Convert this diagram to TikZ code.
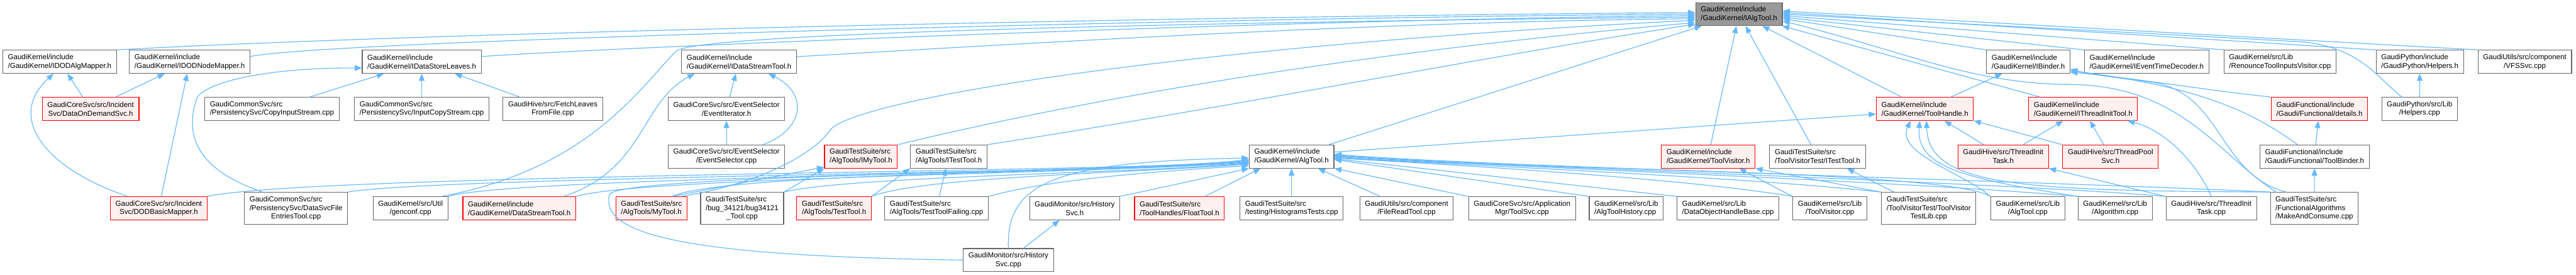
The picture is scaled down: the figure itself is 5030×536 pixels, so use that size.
\documentclass[tikz,border=0pt]{standalone}
\usepackage{fontspec}
\setmainfont{Liberation Sans}
\usetikzlibrary{arrows.meta}

\definecolor{depblue}{HTML}{63B8FF}
\definecolor{boxgrey}{HTML}{666666}
\definecolor{redfill}{HTML}{FFF0F0}
\definecolor{rootfill}{HTML}{999999}

\tikzset{
  filebox/.style={draw=boxgrey, fill=white, line width=0.7pt, font=\fontsize{7.1pt}{8.55pt}\selectfont,
    align=left, inner xsep=5pt, inner ysep=1pt, minimum height=22.5pt},
  cbox/.style={align=center},
  tall/.style={minimum height=31pt},
  redbox/.style={filebox, draw=red, fill=redfill},
  rootbox/.style={filebox, fill=rootfill},
  dep/.style={draw=depblue, line width=0.7pt, -{Triangle[length=7pt,width=5.5pt]}}
}

\begin{document}
\begin{tikzpicture}[x=0.5pt,y=-0.5pt]
\useasboundingbox (0,0) rectangle (5030,536);
\fill[white] (0,0) rectangle (5030,536);

% row 0
\node[rootbox] (ialgtool) at (3395.5,27.5) {GaudiKernel/include\\/GaudiKernel/IAlgTool.h};

% row 1
\node[filebox] (dodalg) at (116.5,120.5) {GaudiKernel/include\\/GaudiKernel/IDODAlgMapper.h};
\node[filebox] (dodnode) at (370.5,120.5) {GaudiKernel/include\\/GaudiKernel/IDODNodeMapper.h};
\node[filebox] (dsleaves) at (823.5,120.5) {GaudiKernel/include\\/GaudiKernel/IDataStoreLeaves.h};
\node[filebox] (idstreamtool) at (1443,120.5) {GaudiKernel/include\\/GaudiKernel/IDataStreamTool.h};
\node[filebox] (ibinder) at (3960.5,120.5) {GaudiKernel/include\\/GaudiKernel/IBinder.h};
\node[filebox] (ieventtime) at (4191.5,120.5) {GaudiKernel/include\\/GaudiKernel/IEventTimeDecoder.h};
\node[filebox] (renounce) at (4452,120.5) {GaudiKernel/src/Lib\\/RenounceToolInputsVisitor.cpp};
\node[filebox] (pyhelpersh) at (4725,120.5) {GaudiPython/include\\/GaudiPython/Helpers.h};
\node[filebox,cbox] (vfssvc) at (4930,120.5) {GaudiUtils/src/component\\/VFSSvc.cpp};

% row 2
\node[redbox,cbox] (dataondemand) at (177,212.5) {GaudiCoreSvc/src/Incident\\Svc/DataOnDemandSvc.h};
\node[filebox] (copyinput) at (531,212.5) {GaudiCommonSvc/src\\/PersistencySvc/CopyInputStream.cpp};
\node[filebox] (inputcopy) at (823.5,212.5) {GaudiCommonSvc/src\\/PersistencySvc/InputCopyStream.cpp};
\node[filebox,cbox] (fetchleaves) at (1079.5,212.5) {GaudiHive/src/FetchLeaves\\FromFile.cpp};
\node[filebox,cbox] (eventiter) at (1418.5,212.5) {GaudiCoreSvc/src/EventSelector\\/EventIterator.h};
\node[redbox] (toolhandle) at (3758.5,212.5) {GaudiKernel/include\\/GaudiKernel/ToolHandle.h};
\node[redbox] (ithreadinit) at (4067.5,212.5) {GaudiKernel/include\\/GaudiKernel/IThreadInitTool.h};
\node[redbox] (details) at (4529,212.5) {GaudiFunctional/include\\/Gaudi/Functional/details.h};
\node[filebox,cbox] (pyhelperscpp) at (4724.5,212.5) {GaudiPython/src/Lib\\/Helpers.cpp};

% row 3
\node[filebox,cbox] (eventsel) at (1418.5,305.5) {GaudiCoreSvc/src/EventSelector\\/EventSelector.cpp};
\node[redbox] (imytool) at (1681,305.5) {GaudiTestSuite/src\\/AlgTools/IMyTool.h};
\node[filebox] (itesttoola) at (1852.5,305.5) {GaudiTestSuite/src\\/AlgTools/ITestTool.h};
\node[filebox] (algtoolh) at (2522,305.5) {GaudiKernel/include\\/GaudiKernel/AlgTool.h};
\node[redbox] (toolvisitorh) at (3335.5,305.5) {GaudiKernel/include\\/GaudiKernel/ToolVisitor.h};
\node[filebox] (itesttoolv) at (3549,305.5) {GaudiTestSuite/src\\/ToolVisitorTest/ITestTool.h};
\node[redbox,cbox] (threadinittaskh) at (3911.5,305.5) {GaudiHive/src/ThreadInit\\Task.h};
\node[redbox,cbox] (threadpoolsvc) at (4121,305.5) {GaudiHive/src/ThreadPool\\Svc.h};
\node[filebox] (toolbinder) at (4519.5,305.5) {GaudiFunctional/include\\/Gaudi/Functional/ToolBinder.h};

% row 4
\node[redbox,cbox] (dodbasic) at (310,406.5) {GaudiCoreSvc/src/Incident\\Svc/DODBasicMapper.h};
\node[filebox,cbox,tall] (dsfileentries) at (578,406.5) {\rlap{GaudiCommonSvc/src}\phantom{/PersistencySvc/DataSvcFile}\\/PersistencySvc/DataSvcFile\\EntriesTool.cpp};
\node[filebox,cbox] (genconf) at (801.5,406.5) {GaudiKernel/src/Util\\/genconf.cpp};
\node[redbox] (datastreamtool) at (1014,406.5) {GaudiKernel/include\\/GaudiKernel/DataStreamTool.h};
\node[redbox] (mytool) at (1272,406.5) {GaudiTestSuite/src\\/AlgTools/MyTool.h};
\node[filebox,cbox,tall] (bug34121) at (1449,406.5) {\rlap{GaudiTestSuite/src}\phantom{/bug\_34121/bug34121}\\/bug\_34121/bug34121\\\_Tool.cpp};
\node[redbox] (testtool) at (1628.5,406.5) {GaudiTestSuite/src\\/AlgTools/TestTool.h};
\node[filebox] (testtoolfailing) at (1828.5,406.5) {GaudiTestSuite/src\\/AlgTools/TestToolFailing.cpp};
\node[filebox,cbox] (historysvch) at (2098.5,406.5) {GaudiMonitor/src/History\\Svc.h};
\node[redbox] (floattool) at (2303,406.5) {GaudiTestSuite/src\\/ToolHandles/FloatTool.h};
\node[filebox] (histtests) at (2522,406.5) {GaudiTestSuite/src\\/testing/HistogramsTests.cpp};
\node[filebox,cbox] (filereadtool) at (2746.5,406.5) {GaudiUtils/src/component\\/FileReadTool.cpp};
\node[filebox,cbox] (toolsvc) at (2972,406.5) {GaudiCoreSvc/src/Application\\Mgr/ToolSvc.cpp};
\node[filebox] (algtoolhistory) at (3175.5,406.5) {GaudiKernel/src/Lib\\/AlgToolHistory.cpp};
\node[filebox] (dohandlebase) at (3374,406.5) {GaudiKernel/src/Lib\\/DataObjectHandleBase.cpp};
\node[filebox,cbox] (toolvisitorcpp) at (3573,406.5) {GaudiKernel/src/Lib\\/ToolVisitor.cpp};
\node[filebox,cbox,tall] (tvtestlib) at (3766,406.5) {\rlap{GaudiTestSuite/src}\phantom{/ToolVisitorTest/ToolVisitor}\\/ToolVisitorTest/ToolVisitor\\TestLib.cpp};
\node[filebox,cbox] (algtoolcpp) at (3959.5,406.5) {GaudiKernel/src/Lib\\/AlgTool.cpp};
\node[filebox,cbox] (algorithmcpp) at (4130,406.5) {GaudiKernel/src/Lib\\/Algorithm.cpp};
\node[filebox,cbox] (threadinittaskcpp) at (4318,406.5) {GaudiHive/src/ThreadInit\\Task.cpp};
\node[filebox,tall] (makeandconsume) at (4519,406.5) {GaudiTestSuite/src\\/FunctionalAlgorithms\\/MakeAndConsume.cpp};

% row 5
\node[filebox,cbox] (historysvccpp) at (1969,507.5) {GaudiMonitor/src/History\\Svc.cpp};

% into IAlgTool.h
\draw[dep] (dodalg.north east) .. controls (900,60) and (2500,30) .. (ialgtool.178);
\draw[dep] (dodnode.5) .. controls (650,78) and (2400,34) .. (ialgtool.180);
\draw[dep] (dsleaves.5) .. controls (1150,95) and (2500,38) .. (ialgtool.182);
\draw[dep] (genconf.21) .. controls (1150,330) and (1250,170) .. (1320,100) .. controls (1360,60) and (2600,40) .. (ialgtool.184);
\draw[dep] (idstreamtool.5) .. controls (2000,85) and (2700,42) .. (ialgtool.186);
\draw[dep] (mytool.22) .. controls (1480,360) and (1590,300) .. (1620,255) .. controls (1660,195) and (2300,90) .. (ialgtool.188);
\draw[dep] (imytool.north east) .. controls (2300,150) and (2900,80) .. (ialgtool.191);
\draw[dep] (itesttoola.north east) .. controls (2400,210) and (2900,110) .. (ialgtool.193);
\draw[dep] (algtoolh) -- (ialgtool);
\draw[dep] (toolvisitorh) -- (ialgtool);
\draw[dep] (itesttoolv) -- (ialgtool);
\draw[dep] (toolhandle) -- (ialgtool);
\draw[dep] (ithreadinit) -- (ialgtool);
\draw[dep] (vfssvc.north west) -- (ialgtool.4);
\draw[dep] (pyhelpersh.north west) -- (ialgtool.2);
\draw[dep] (pyhelperscpp.146) .. controls (4640,150) and (4610,95) .. (4500,82) .. controls (4200,65) and (3700,40) .. (ialgtool.0);
\draw[dep] (renounce.north west) -- (ialgtool.-2);
\draw[dep] (ieventtime.north west) -- (ialgtool.-4);
\draw[dep] (ibinder.north west) -- (ialgtool.-6);
\draw[dep] (makeandconsume.157) .. controls (4330,300) and (4260,170) .. (4050,165) .. controls (3850,165) and (3720,100) .. (ialgtool.-9);

% IDOD mappers, IDataStoreLeaves.h, IDataStreamTool.h
\draw[dep] (dataondemand) -- (dodalg);
\draw[dep] (dataondemand) -- (dodnode);
\draw[dep] (dodbasic.159) .. controls (90,330) and (10,230) .. (dodalg.243);
\draw[dep] (dodbasic) -- (dodnode);
\draw[dep] (copyinput) -- (dsleaves);
\draw[dep] (inputcopy) -- (dsleaves);
\draw[dep] (fetchleaves) -- (dsleaves);
\draw[dep] (dsfileentries.154) .. controls (380,330) and (360,260) .. (385,190) .. controls (405,160) and (520,132) .. (dsleaves.186);
\draw[dep] (eventiter) -- (idstreamtool);
\draw[dep] (eventsel) -- (eventiter);
\draw[dep] (eventsel.18) .. controls (1575,250) and (1575,180) .. (idstreamtool.-22);
\draw[dep] (datastreamtool.15) .. controls (1260,330) and (1250,200) .. (idstreamtool.195);

% test tool interfaces
\draw[dep] (mytool.30) -- (imytool.196);
\draw[dep] (bug34121.north east) -- (imytool.south west);
\draw[dep] (testtool.north east) -- (itesttoola.south west);
\draw[dep] (testtoolfailing) -- (itesttoola);
\draw[dep] (historysvccpp) -- (historysvch);

% into AlgTool.h
\draw[dep] (dodbasic.north east) .. controls (600,340) and (2200,336) .. (algtoolh.186);
\draw[dep] (dsfileentries.north east) .. controls (850,345) and (2200,336) .. (algtoolh.188);
\draw[dep] (genconf.north east) .. controls (1000,345) and (2200,338) .. (algtoolh.184);
\draw[dep] (datastreamtool.north east) .. controls (1250,345) and (2200,338) .. (algtoolh.187);
\draw[dep] (mytool.30) .. controls (1420,335) and (2200,338) .. (algtoolh.185);
\draw[dep] (bug34121.north east) .. controls (1650,345) and (2200,338) .. (algtoolh.189);
\draw[dep] (testtool.north east) .. controls (1800,345) and (2200,338) .. (algtoolh.190);
\draw[dep] (testtoolfailing.north east) .. controls (2050,350) and (2250,335) .. (algtoolh.192);
\draw[dep] (historysvch.north east) -- (algtoolh.south west);
\draw[dep] (floattool.25) -- (algtoolh.201);
\draw[dep] (historysvccpp.north) .. controls (1965,360) and (2050,315) .. (algtoolh.182);
\draw[dep] (historysvccpp.west) .. controls (1350,500) and (1170,460) .. (1190,380) .. controls (1200,340) and (2200,336) .. (algtoolh.186);
\draw[dep] (histtests) -- (algtoolh);
\draw[dep] (filereadtool) -- (algtoolh);
\draw[dep] (toolsvc.north west) -- (algtoolh.south east);
\draw[dep] (algtoolhistory.north west) -- (algtoolh.-4);
\draw[dep] (dohandlebase.north west) -- (algtoolh.-3);
\draw[dep] (toolvisitorcpp.north west) .. controls (3300,350) and (2900,325) .. (algtoolh.-2);
\draw[dep] (tvtestlib.north west) .. controls (3400,345) and (2900,325) .. (algtoolh.-1);
\draw[dep] (algtoolcpp.north west) .. controls (3800,330) and (2900,330) .. (algtoolh.0);
\draw[dep] (algorithmcpp.north west) .. controls (3700,352) and (2900,325) .. (algtoolh.1);
\draw[dep] (threadinittaskcpp.north west) .. controls (3900,355) and (2900,325) .. (algtoolh.2);
\draw[dep] (makeandconsume.north west) .. controls (4100,358) and (2900,325) .. (algtoolh.3);

% ToolVisitor.h, ITestTool.h (ToolVisitorTest)
\draw[dep] (toolvisitorcpp.north west) -- (toolvisitorh.-21);
\draw[dep] (tvtestlib.north west) -- (toolvisitorh.south east);
\draw[dep] (tvtestlib.155) -- (itesttoolv.-22);

% ToolHandle.h
\draw[dep] (algtoolh.6) -- (toolhandle.186);
\draw[dep] (threadinittaskh) -- (toolhandle);
\draw[dep] (threadpoolsvc.north west) -- (toolhandle.south east);
\draw[dep] (algtoolcpp.north west) .. controls (3840,340) and (3700,300) .. (toolhandle.220);
\draw[dep] (algorithmcpp.north west) .. controls (3850,350) and (3740,330) .. (toolhandle.247);
\draw[dep] (makeandconsume.north west) .. controls (3950,372) and (3765,365) .. (toolhandle.278);

% IBinder.h, IThreadInitTool.h
\draw[dep] (toolhandle) -- (ibinder);
\draw[dep] (details.north west) .. controls (4300,175) and (4150,150) .. (ibinder.-14);
\draw[dep] (toolbinder.145) .. controls (4400,220) and (4300,170) .. (ibinder.-12);
\draw[dep] (makeandconsume.150) .. controls (4330,340) and (4340,180) .. (4200,160) .. controls (4120,150) and (4080,145) .. (ibinder.-10);
\draw[dep] (threadinittaskh) -- (ithreadinit);
\draw[dep] (threadpoolsvc) -- (ithreadinit);
\draw[dep] (threadinittaskcpp.north) .. controls (4290,320) and (4230,255) .. (ithreadinit.-15);
\draw[dep] (threadinittaskcpp.north west) -- (threadinittaskh.south east);

% functional, python
\draw[dep] (toolbinder) -- (details);
\draw[dep] (makeandconsume) -- (toolbinder);
\draw[dep] (pyhelperscpp) -- (pyhelpersh);
\end{tikzpicture}
\end{document}
